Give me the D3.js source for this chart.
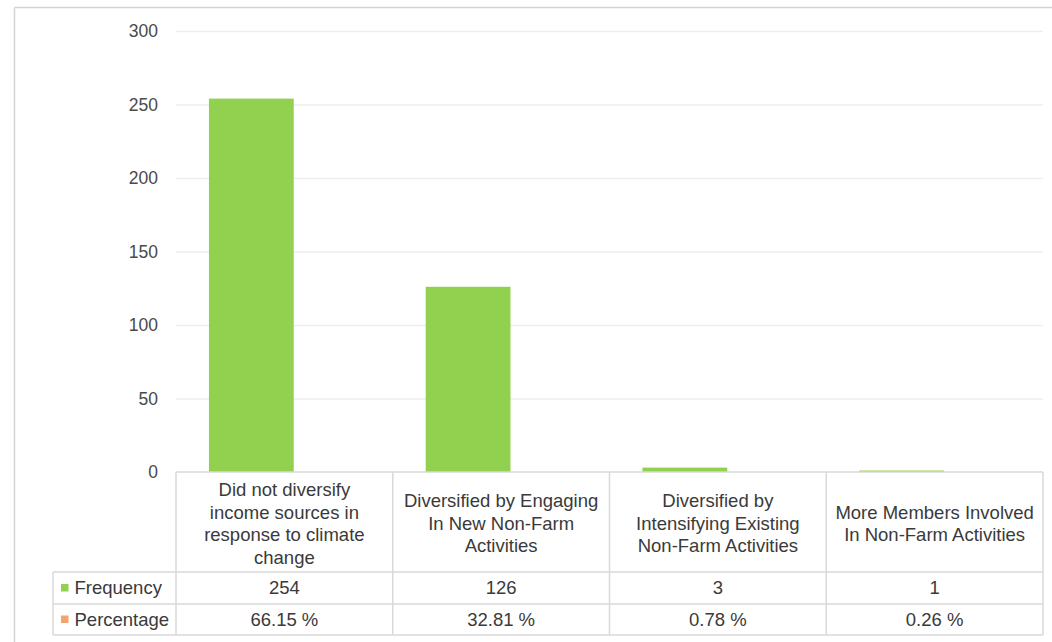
<!DOCTYPE html>
<html>
<head>
<meta charset="utf-8">
<script src="https://cdn.jsdelivr.net/npm/d3@7"></script>
<style>
  html, body { margin: 0; padding: 0; background: #ffffff; }
  svg { display: block; font-family: "Liberation Sans", Arial, sans-serif; }
</style>
</head>
<body>
<svg id="chart" width="1052" height="642"></svg>
<script>
// ---- data ----
const categories = [
  "Did not diversify income sources in response to climate change",
  "Diversified by Engaging In New Non-Farm Activities",
  "Diversified by Intensifying Existing Non-Farm Activities",
  "More Members Involved In Non-Farm Activities"
];
const categoryLines = [
  ["Did not diversify", "income sources in", "response to climate", "change"],
  ["Diversified  by Engaging", "In New Non-Farm", "Activities"],
  ["Diversified  by", "Intensifying Existing", "Non-Farm  Activities"],
  ["More Members Involved", "In Non-Farm Activities"]
];
const seriesNames = ["Frequency", "Percentage"];
const frequency = [254, 126, 3, 1];
const percentage = [66.15, 32.81, 0.78, 0.26];
const percentageLabels = ["66.15 %", "32.81 %", "0.78 %", "0.26 %"];
const yTicks = [0, 50, 100, 150, 200, 250, 300];
const seriesColors = ["#92d050", "#f4a46e"];

// ---- layout ----
const svg = d3.select("#chart");
const plot = { left: 176, right: 1043, top: 31, bottom: 472 };
const table = { labelLeft: 53, headerBottom: 572, row1Bottom: 604, row2Bottom: 635 };
const textColor = "#3a3a3a";
const lineColor = "#d9d9d9";

// outer frame
svg.append("line").attr("x1", 14.5).attr("x2", 14.5).attr("y1", 7.5).attr("y2", 642)
  .attr("stroke", "#d4d4d4").attr("stroke-width", 1.5);
svg.append("line").attr("x1", 14.5).attr("x2", 1052).attr("y1", 7.5).attr("y2", 7.5)
  .attr("stroke", "#d4d4d4").attr("stroke-width", 1.5);

const x = d3.scaleBand().domain(categories).range([plot.left, plot.right]).padding(0);
const bw = x.bandwidth();
const xInner = d3.scaleBand().domain(seriesNames).range([0.152 * bw, 0.936 * bw]).padding(0);
const y = d3.scaleLinear().domain([0, 300]).range([plot.bottom, plot.top]);

// gridlines
const grid = svg.append("g").attr("transform", `translate(${plot.left},0)`)
  .call(d3.axisLeft(y).tickValues(yTicks.filter(t => t > 0)).tickSize(-(plot.right - plot.left)).tickFormat(""));
grid.select(".domain").remove();
grid.selectAll(".tick line").attr("stroke", "#eeeeee").attr("stroke-width", 1.5);

// y axis labels
const yAxis = svg.append("g").attr("transform", `translate(158,0)`)
  .call(d3.axisLeft(y).tickValues(yTicks).tickSize(0).tickPadding(0));
yAxis.select(".domain").remove();
yAxis.selectAll(".tick text")
  .attr("font-size", 17.5).attr("fill", "#4a4a4a")
  .attr("font-family", "Liberation Sans, Arial, sans-serif");

// bars (Frequency series)
svg.append("g").selectAll("rect").data(frequency).join("rect")
  .attr("x", (d, i) => x(categories[i]) + xInner("Frequency"))
  .attr("width", xInner.bandwidth() * 0.998)
  .attr("y", d => y(d))
  .attr("height", d => y(0) - y(d))
  .attr("fill", seriesColors[0]);

// data table lines
const tl = svg.append("g").attr("stroke", lineColor).attr("stroke-width", 1.5);
tl.append("line").attr("x1", plot.left).attr("x2", plot.right).attr("y1", plot.bottom).attr("y2", plot.bottom);
[table.headerBottom, table.row1Bottom, table.row2Bottom].forEach(yy => {
  tl.append("line").attr("x1", table.labelLeft).attr("x2", plot.right).attr("y1", yy).attr("y2", yy);
});
categories.forEach(c => {
  tl.append("line").attr("x1", x(c)).attr("x2", x(c)).attr("y1", plot.bottom).attr("y2", table.row2Bottom);
});
tl.append("line").attr("x1", plot.right).attr("x2", plot.right).attr("y1", plot.bottom).attr("y2", table.row2Bottom);
tl.append("line").attr("x1", table.labelLeft).attr("x2", table.labelLeft).attr("y1", table.headerBottom).attr("y2", table.row2Bottom);

// header category labels
const lh = 22.5;
const headerCenter = 523.5;
categoryLines.forEach((lines, i) => {
  const cx = x(categories[i]) + bw / 2;
  const t = svg.append("text").attr("text-anchor", "middle")
    .attr("font-size", 18.5).attr("fill", textColor);
  const startY = headerCenter - (lines.length - 1) * lh / 2;
  lines.forEach((ln, j) => {
    t.append("tspan").attr("x", cx).attr("y", startY + j * lh).attr("dy", "0.35em").text(ln);
  });
});

// row labels with legend keys
const rows = [
  { name: seriesNames[0], color: seriesColors[0], values: frequency.map(String), y0: table.headerBottom, y1: table.row1Bottom },
  { name: seriesNames[1], color: seriesColors[1], values: percentageLabels, y0: table.row1Bottom, y1: table.row2Bottom }
];
rows.forEach(r => {
  const cy = (r.y0 + r.y1) / 2;
  svg.append("rect").attr("x", 61).attr("y", cy - 4).attr("width", 7.5).attr("height", 7.5).attr("fill", r.color);
  svg.append("text").attr("x", 74.5).attr("y", cy).attr("dy", "0.35em")
    .attr("font-size", 18.5).attr("fill", textColor).text(r.name);
  r.values.forEach((v, i) => {
    svg.append("text").attr("x", x(categories[i]) + bw / 2).attr("y", cy).attr("dy", "0.35em")
      .attr("text-anchor", "middle").attr("font-size", 18.5).attr("fill", textColor).text(v);
  });
});
</script>
</body>
</html>
